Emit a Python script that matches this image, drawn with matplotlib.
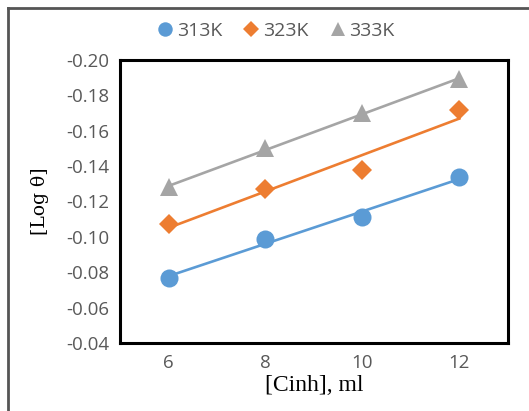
import numpy as np
import matplotlib
matplotlib.use("Agg")
import matplotlib.pyplot as plt
from matplotlib.lines import Line2D

x_vals = [6, 8, 10, 12]
y_313 = [-0.077, -0.099, -0.111, -0.134]
y_323 = [-0.107, -0.127, -0.138, -0.172]
y_333 = [-0.128, -0.150, -0.170, -0.189]
series_names = ["313K", "323K", "333K"]
y_ticks = [-0.20, -0.18, -0.16, -0.14, -0.12, -0.10, -0.08, -0.06, -0.04]
x_ticks = [6, 8, 10, 12]

colors = ["#5B9BD5", "#ED7D31", "#A5A5A5"]
markers = ["o", "D", "^"]
msizes = [13, 10, 13]

fig = plt.figure(figsize=(5.29, 4.11), dpi=100)
ax = fig.add_axes([0.227, 0.1655, 0.733, 0.6885])

xs = np.array(x_vals, dtype=float)
for ys, c, m, ms, name in zip([y_313, y_323, y_333], colors, markers, msizes, series_names):
    ys = np.array(ys)
    k, b = np.polyfit(xs, ys, 1)
    ax.plot([xs[0], xs[-1]], [k * xs[0] + b, k * xs[-1] + b], color=c, lw=1.9, zorder=2)
    ax.plot(xs, ys, linestyle="none", marker=m, markersize=ms, color=c,
            markeredgewidth=0, zorder=3)

ax.set_xlim(5, 13)
ax.set_ylim(-0.04, -0.20)
ax.set_xticks(x_ticks)
ax.set_yticks(y_ticks)
ax.set_yticklabels([f"{v:.2f}" for v in y_ticks])
ax.tick_params(length=0, labelsize=13.5, labelcolor="#595959", pad=8)
for lab in ax.get_xticklabels() + ax.get_yticklabels():
    lab.set_family("Open Sans")
for s in ax.spines.values():
    s.set_linewidth(2.2)
    s.set_color("black")

ax.set_xlabel("[Cinh], ml", family="Liberation Serif", fontsize=17, labelpad=2)
ax.set_ylabel("[Log θ]", family="DejaVu Serif", fontsize=13.5, labelpad=12)

handles = [Line2D([], [], linestyle="none", marker=m, color=c, markersize=ms * 0.8,
                  markeredgewidth=0) for m, c, ms in zip(markers, colors, msizes)]
leg = fig.legend(handles, series_names, loc="center", bbox_to_anchor=(0.52, 0.925),
                 ncol=3, frameon=False, handletextpad=0.1, columnspacing=1.0,
                 prop={"family": "Open Sans", "size": 14}, handlelength=1.0)
for t in leg.get_texts():
    t.set_color("#595959")

# outer chart border (left and top visible)
fig.add_artist(Line2D([8 / 529, 8 / 529], [0, 1 - 8 / 411], transform=fig.transFigure,
                      color="#555555", lw=2))
fig.add_artist(Line2D([8 / 529, 1], [1 - 8 / 411, 1 - 8 / 411], transform=fig.transFigure,
                      color="#555555", lw=2))

fig.savefig("out.png", dpi=100)
